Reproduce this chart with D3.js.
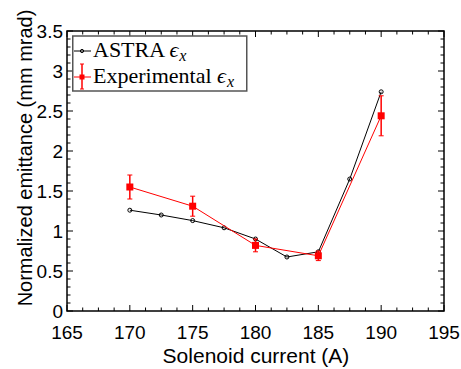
<!DOCTYPE html>
<html>
<head>
<meta charset="utf-8">
<script src="https://cdn.jsdelivr.net/npm/d3@7"></script>
<style>
  html, body { margin: 0; padding: 0; background: #fff; }
  svg { display: block; }
  .tick-label { font-family: "Liberation Sans", Arial, sans-serif; font-size: 19px; fill: #000; }
  .axis-title { font-family: "Liberation Sans", Arial, sans-serif; fill: #000; }
  .legend-text { font-family: "Liberation Serif", "Times New Roman", serif; font-size: 22px; fill: #000; }
</style>
</head>
<body>
<svg id="chart" width="461" height="369"></svg>
<script>
// Solenoid scan: normalized emittance vs solenoid current
const astraCurrent = [170, 172.5, 175, 177.5, 180, 182.5, 185, 187.5, 190];
const astraEmittance = [1.26, 1.20, 1.13, 1.04, 0.90, 0.675, 0.74, 1.65, 2.74];

const expCurrent = [170, 175, 180, 185, 190];
const expEmittance = [1.55, 1.31, 0.82, 0.69, 2.44];
const expError = [0.15, 0.125, 0.08, 0.06, 0.25];

const xTicks = [165, 170, 175, 180, 185, 190, 195];
const yTicks = [0, 0.5, 1, 1.5, 2, 2.5, 3, 3.5];
const yTickLabels = ["0", "0.5", "1", "1.5", "2", "2.5", "3", "3.5"];

const svg = d3.select("#chart");
const plotLeft = 67, plotRight = 444, plotTop = 31, plotBottom = 311;

const x = d3.scaleLinear().domain([165, 195]).range([plotLeft, plotRight]);
const y = d3.scaleLinear().domain([0, 3.5]).range([plotBottom, plotTop]);

// Minor/major tick marks on all four sides, pointing inward
const g = svg.append("g");
const xMinor = d3.range(165, 195.001, 1.25);
const yMinor = d3.range(0, 3.5001, 0.1);
const tickStroke = "#000";

xMinor.forEach(v => {
  const major = Math.abs(v / 5 - Math.round(v / 5)) < 1e-6;
  const len = major ? 6 : 3.5;
  g.append("line").attr("x1", x(v)).attr("x2", x(v)).attr("y1", plotBottom).attr("y2", plotBottom - len)
    .attr("stroke", tickStroke).attr("stroke-width", 1);
  g.append("line").attr("x1", x(v)).attr("x2", x(v)).attr("y1", plotTop).attr("y2", plotTop + len)
    .attr("stroke", tickStroke).attr("stroke-width", 1);
});
yMinor.forEach(v => {
  const major = Math.abs(v / 0.5 - Math.round(v / 0.5)) < 1e-6;
  const len = major ? 6 : 3.5;
  g.append("line").attr("x1", plotLeft).attr("x2", plotLeft + len).attr("y1", y(v)).attr("y2", y(v))
    .attr("stroke", tickStroke).attr("stroke-width", 1);
  g.append("line").attr("x1", plotRight).attr("x2", plotRight - len).attr("y1", y(v)).attr("y2", y(v))
    .attr("stroke", tickStroke).attr("stroke-width", 1);
});

// Frame
svg.append("rect").attr("x", plotLeft).attr("y", plotTop)
  .attr("width", plotRight - plotLeft).attr("height", plotBottom - plotTop)
  .attr("fill", "none").attr("stroke", "#000").attr("stroke-width", 1.5);

// Tick labels
svg.append("g").selectAll("text").data(xTicks).join("text")
  .attr("class", "tick-label")
  .attr("x", d => x(d)).attr("y", 338.5)
  .attr("text-anchor", "middle")
  .text(d => d);

svg.append("g").selectAll("text").data(yTicks).join("text")
  .attr("class", "tick-label")
  .attr("x", 63).attr("y", d => y(d) + 6.5)
  .attr("text-anchor", "end")
  .text((d, i) => yTickLabels[i]);

// Axis titles
svg.append("text").attr("class", "axis-title")
  .attr("font-size", "21px")
  .attr("x", 256).attr("y", 363)
  .attr("text-anchor", "middle")
  .text("Solenoid current (A)");

svg.append("text").attr("class", "axis-title")
  .attr("font-size", "20px")
  .attr("transform", "translate(32, 158) rotate(-90)")
  .attr("text-anchor", "middle")
  .text("Normalized emittance (mm mrad)");

// ASTRA simulation line
const astra = astraCurrent.map((c, i) => ({ c, e: astraEmittance[i] }));
const line = d3.line().x(d => x(d.c)).y(d => y(d.e));
svg.append("path").datum(astra).attr("d", line)
  .attr("fill", "none").attr("stroke", "#000").attr("stroke-width", 1);
svg.append("g").selectAll("circle").data(astra).join("circle")
  .attr("cx", d => x(d.c)).attr("cy", d => y(d.e)).attr("r", 2)
  .attr("fill", "none").attr("stroke", "#000").attr("stroke-width", 1);

// Experimental points with error bars
const exp = expCurrent.map((c, i) => ({ c, e: expEmittance[i], err: expError[i] }));
svg.append("path").datum(exp).attr("d", line)
  .attr("fill", "none").attr("stroke", "#ff0000").attr("stroke-width", 1);
const eb = svg.append("g").selectAll("g").data(exp).join("g");
eb.append("line")
  .attr("x1", d => x(d.c)).attr("x2", d => x(d.c))
  .attr("y1", d => y(d.e - d.err)).attr("y2", d => y(d.e + d.err))
  .attr("stroke", "#ff0000").attr("stroke-width", 1.5);
eb.append("line")
  .attr("x1", d => x(d.c) - 2.5).attr("x2", d => x(d.c) + 2.5)
  .attr("y1", d => y(d.e - d.err)).attr("y2", d => y(d.e - d.err))
  .attr("stroke", "#ff0000").attr("stroke-width", 1);
eb.append("line")
  .attr("x1", d => x(d.c) - 2.5).attr("x2", d => x(d.c) + 2.5)
  .attr("y1", d => y(d.e + d.err)).attr("y2", d => y(d.e + d.err))
  .attr("stroke", "#ff0000").attr("stroke-width", 1);
eb.append("rect")
  .attr("x", d => x(d.c) - 3.5).attr("y", d => y(d.e) - 3.5)
  .attr("width", 7).attr("height", 7).attr("fill", "#ff0000");

// Legend
const lg = svg.append("g");
lg.append("rect").attr("x", 72.75).attr("y", 36).attr("width", 174).attr("height", 55)
  .attr("fill", "#fff").attr("stroke", "#555").attr("stroke-width", 1.5);
// ASTRA entry
lg.append("line").attr("x1", 74).attr("x2", 91).attr("y1", 51).attr("y2", 51)
  .attr("stroke", "#000").attr("stroke-width", 1);
lg.append("circle").attr("cx", 82).attr("cy", 51).attr("r", 1.6)
  .attr("fill", "none").attr("stroke", "#000").attr("stroke-width", 1);
const t1 = lg.append("text").attr("class", "legend-text").attr("x", 93).attr("y", 57);
t1.append("tspan").text("ASTRA ");
t1.append("tspan").attr("font-style", "italic").text("\u03F5");
t1.append("tspan").attr("font-style", "italic").attr("font-size", "16px").attr("dx", 1).attr("dy", 4).text("x");
// Experimental entry
lg.append("line").attr("x1", 74).attr("x2", 91).attr("y1", 77).attr("y2", 77)
  .attr("stroke", "#ff0000").attr("stroke-width", 1);
lg.append("line").attr("x1", 82).attr("x2", 82).attr("y1", 64).attr("y2", 89)
  .attr("stroke", "#ff0000").attr("stroke-width", 1.5);
lg.append("line").attr("x1", 80).attr("x2", 84).attr("y1", 64).attr("y2", 64)
  .attr("stroke", "#ff0000").attr("stroke-width", 1);
lg.append("line").attr("x1", 80).attr("x2", 84).attr("y1", 89).attr("y2", 89)
  .attr("stroke", "#ff0000").attr("stroke-width", 1);
lg.append("rect").attr("x", 79.5).attr("y", 74.5).attr("width", 5).attr("height", 5).attr("fill", "#ff0000");
const t2 = lg.append("text").attr("class", "legend-text").attr("x", 93).attr("y", 83);
t2.append("tspan").text("Experimental ");
t2.append("tspan").attr("font-style", "italic").text("\u03F5");
t2.append("tspan").attr("font-style", "italic").attr("font-size", "16px").attr("dx", 1).attr("dy", 4).text("x");
</script>
</body>
</html>
